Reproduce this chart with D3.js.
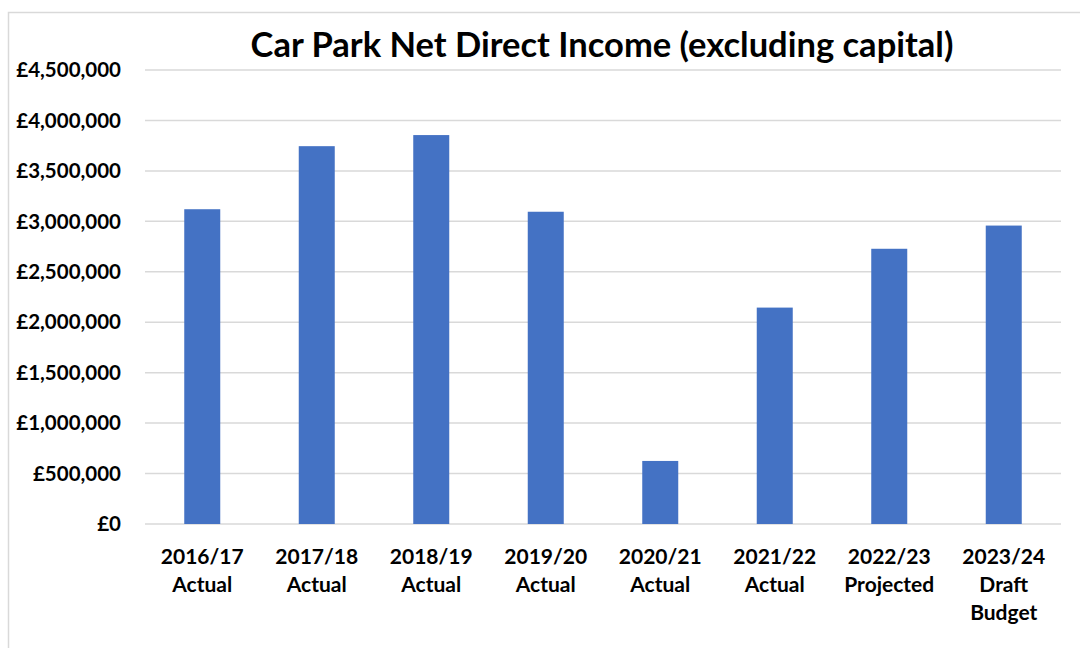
<!DOCTYPE html>
<html><head><meta charset="utf-8">
<script src="https://cdn.jsdelivr.net/npm/d3@7"></script>
<style>html,body{margin:0;padding:0;background:#fff;}svg{display:block;}</style>
</head><body>
<script>
const categories = [["2016/17","Actual"],["2017/18","Actual"],["2018/19","Actual"],["2019/20","Actual"],["2020/21","Actual"],["2021/22","Actual"],["2022/23","Projected"],["2023/24","Draft","Budget"]];
const values = [3120000, 3745000, 3855000, 3095000, 625000, 2145000, 2728000, 2958000];
const yTicks = [0,500000,1000000,1500000,2000000,2500000,3000000,3500000,4000000,4500000];
const title = "Car Park Net Direct Income (excluding capital)";

const W=1080,H=648;
const svg=d3.select("body").append("svg").attr("width",W).attr("height",H);
const font="Lato, 'Open Sans', sans-serif";
svg.append("rect").attr("x",8.5).attr("y",12.5).attr("width",1200).attr("height",800)
  .attr("fill","#fff").attr("stroke","#d9d9d9").attr("stroke-width",1.5);

const plot={l:145,r:1061,t:70,b:524};
const x=d3.scaleBand().domain(categories.map((c,i)=>i)).range([plot.l,plot.r]);
const y=d3.scaleLinear().domain([0,4500000]).range([plot.b,plot.t]);

svg.append("g").selectAll("line").data(yTicks).join("line")
  .attr("x1",plot.l).attr("x2",plot.r).attr("y1",d=>y(d)).attr("y2",d=>y(d))
  .attr("stroke","#d9d9d9").attr("stroke-width",1.5);

const fmt=d=>"£"+d3.format(",")(d);
svg.append("g").selectAll("text").data(yTicks).join("text")
  .attr("x",121).attr("y",d=>y(d)).attr("dy","0.35em").attr("text-anchor","end")
  .attr("font-family",font).attr("font-weight","bold").attr("font-size",20.5).attr("fill","#000")
  .text(fmt);

const bw=36;
svg.append("g").selectAll("rect").data(values).join("rect")
  .attr("x",(d,i)=>x(i)+x.bandwidth()/2-bw/2).attr("width",bw)
  .attr("y",d=>y(d)).attr("height",d=>plot.b-y(d)).attr("fill","#4472C4");

const xl=svg.append("g").selectAll("text").data(categories).join("text")
  .attr("x",(d,i)=>x(i)+x.bandwidth()/2).attr("y",564).attr("text-anchor","middle")
  .attr("font-family",font).attr("font-weight","bold").attr("font-size",21).attr("fill","#000");
xl.each(function(d,i){
  const t=d3.select(this);
  d.forEach((s,j)=>t.append("tspan").attr("x",x(i)+x.bandwidth()/2).attr("dy",j?28:0).text(s));
});

svg.append("text").attr("x",602).attr("y",57).attr("text-anchor","middle")
  .attr("font-family",font).attr("font-weight","bold").attr("font-size",34.5).attr("fill","#000")
  .text(title);
</script>
</body></html>
